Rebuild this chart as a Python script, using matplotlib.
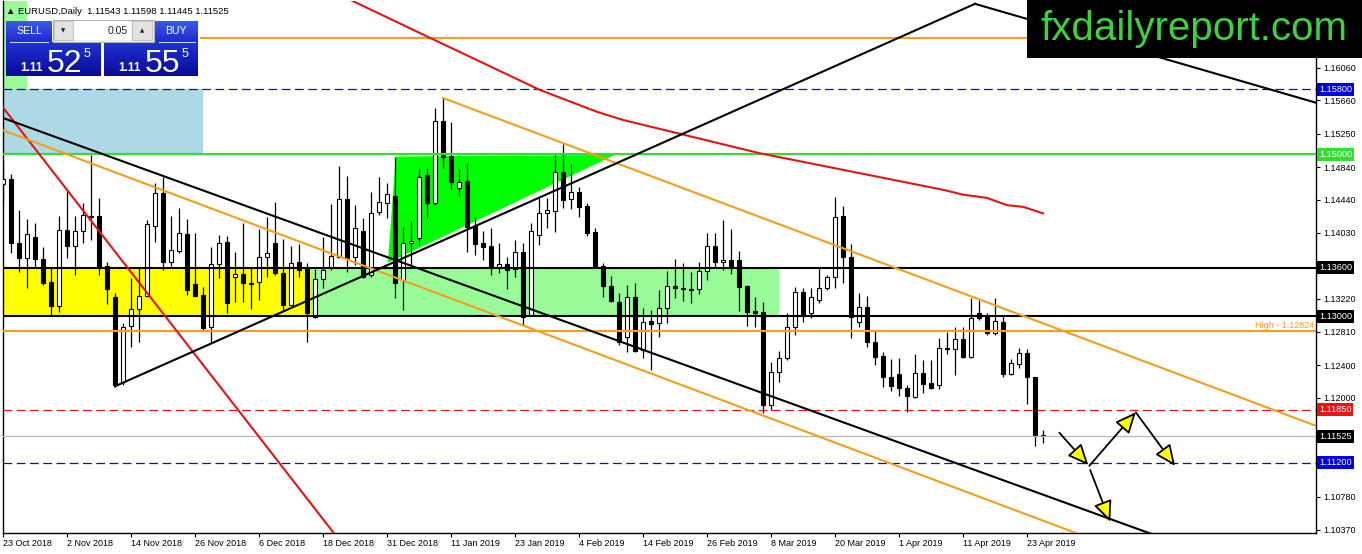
import numpy as np
import matplotlib
matplotlib.use("Agg")
import matplotlib.pyplot as plt
from matplotlib.patches import Rectangle, Polygon, FancyArrowPatch
from matplotlib.colors import to_rgb
import matplotlib.transforms as mtrans

# ---------------- data ----------------
opens = [1.1463, 1.1469, 1.1390, 1.1372, 1.1398, 1.1371, 1.1342, 1.1313, 1.1406, 1.1387,
         1.1405, 1.1424, 1.1424, 1.1362, 1.1324, 1.1219, 1.1288, 1.1309, 1.1325, 1.1411,
         1.1452, 1.1367, 1.1381, 1.1401, 1.1340, 1.1326, 1.1287, 1.1365, 1.1392, 1.1349,
         1.1352, 1.1341, 1.1342, 1.1373, 1.1390, 1.1354, 1.1314, 1.1367, 1.1360, 1.1299,
         1.1346, 1.1360, 1.1373, 1.1445, 1.1373, 1.1405, 1.1351, 1.1429, 1.1440, 1.1448,
         1.1345, 1.1390, 1.1397, 1.1474, 1.1440, 1.1541, 1.1498, 1.1458, 1.1467, 1.1411,
         1.1390, 1.1387, 1.1361, 1.1365, 1.1358, 1.1379, 1.1302, 1.1400, 1.1427, 1.1430,
         1.1478, 1.1445, 1.1453, 1.1436, 1.1404, 1.1362, 1.1338, 1.1318, 1.1275, 1.1324,
         1.1259, 1.1294, 1.1292, 1.1310, 1.1338, 1.1335, 1.1334, 1.1334, 1.1356, 1.1387,
         1.1367, 1.1370, 1.1370, 1.1338, 1.1307, 1.1305, 1.1191, 1.1232, 1.1249, 1.1287,
         1.1330, 1.1304, 1.1320, 1.1335, 1.1349, 1.1424, 1.1373, 1.1293, 1.1312, 1.1268,
         1.1251, 1.1225, 1.1229, 1.1212, 1.1201, 1.1230, 1.1218, 1.1216, 1.1261, 1.1260,
         1.1272, 1.1250, 1.1304, 1.1301, 1.1280, 1.1293, 1.1229, 1.1241, 1.1255, 1.1225,
         1.11543]
highs = [1.1493, 1.1475, 1.1431, 1.1420, 1.1415, 1.1385, 1.1360, 1.1424, 1.1454, 1.1424,
         1.1440, 1.1499, 1.1446, 1.1367, 1.1329, 1.1292, 1.1347, 1.1361, 1.1419, 1.1464,
         1.1472, 1.1424, 1.1434, 1.1420, 1.1403, 1.1336, 1.1385, 1.1400, 1.1399, 1.1379,
         1.1415, 1.1361, 1.1408, 1.1422, 1.1441, 1.1395, 1.1387, 1.1389, 1.1366, 1.1358,
         1.1398, 1.1438, 1.1485, 1.1473, 1.1437, 1.1421, 1.1453, 1.1472, 1.1464, 1.1496,
         1.1410, 1.1418, 1.1483, 1.1483, 1.1557, 1.1569, 1.1539, 1.1482, 1.1489, 1.1422,
         1.1405, 1.1409, 1.1390, 1.1373, 1.1394, 1.1390, 1.1415, 1.1446, 1.1446, 1.1499,
         1.1512, 1.1488, 1.1459, 1.1440, 1.1409, 1.1366, 1.1350, 1.1329, 1.1339, 1.1341,
         1.1310, 1.1308, 1.1333, 1.1356, 1.1371, 1.1366, 1.1355, 1.1367, 1.1403, 1.1403,
         1.1419, 1.1408, 1.1381, 1.1339, 1.1324, 1.1318, 1.1244, 1.1257, 1.1304, 1.1336,
         1.1335, 1.1335, 1.1360, 1.1351, 1.1447, 1.1436, 1.1389, 1.1329, 1.1325, 1.1283,
         1.1256, 1.1248, 1.1249, 1.1216, 1.1254, 1.1246, 1.1246, 1.1273, 1.1281, 1.1287,
         1.1287, 1.1323, 1.1320, 1.1304, 1.1323, 1.1302, 1.1248, 1.1261, 1.1260, 1.1226,
         1.11598]
lows = [1.1440, 1.1378, 1.1355, 1.1335, 1.1361, 1.1339, 1.1302, 1.1305, 1.1372, 1.1351,
        1.1390, 1.1394, 1.1351, 1.1315, 1.1213, 1.1216, 1.1262, 1.1268, 1.1324, 1.1392,
        1.1357, 1.1362, 1.1378, 1.1326, 1.1324, 1.1283, 1.1268, 1.1347, 1.1304, 1.1318,
        1.1318, 1.1309, 1.1320, 1.1349, 1.1351, 1.1308, 1.1313, 1.1349, 1.1268, 1.1298,
        1.1335, 1.1357, 1.1372, 1.1355, 1.1363, 1.1347, 1.1349, 1.1425, 1.1421, 1.1323,
        1.1308, 1.1360, 1.1388, 1.1421, 1.1437, 1.1483, 1.1457, 1.1448, 1.1379, 1.1376,
        1.1370, 1.1351, 1.1354, 1.1334, 1.1349, 1.1289, 1.1301, 1.1388, 1.1409, 1.1404,
        1.1434, 1.1432, 1.1422, 1.1399, 1.1361, 1.1324, 1.1318, 1.1265, 1.1256, 1.1256,
        1.1249, 1.1234, 1.1275, 1.1292, 1.1323, 1.1319, 1.1317, 1.1328, 1.1345, 1.1361,
        1.1357, 1.1352, 1.1307, 1.1288, 1.1287, 1.1181, 1.1185, 1.1219, 1.1246, 1.1277,
        1.1293, 1.1298, 1.1317, 1.1333, 1.1335, 1.1341, 1.1273, 1.1287, 1.1262, 1.1240,
        1.1213, 1.1208, 1.1202, 1.1182, 1.1199, 1.1206, 1.1211, 1.1211, 1.1254, 1.1228,
        1.1249, 1.1249, 1.1296, 1.1277, 1.1277, 1.1225, 1.1228, 1.1236, 1.1192, 1.1140,
        1.11445]
closes = [1.1469, 1.1390, 1.1372, 1.1401, 1.1371, 1.1341, 1.1313, 1.1406, 1.1387, 1.1405,
          1.1425, 1.1422, 1.1361, 1.1334, 1.1216, 1.1287, 1.1309, 1.1325, 1.1414, 1.1452,
          1.1367, 1.1382, 1.1403, 1.1333, 1.1325, 1.1286, 1.1365, 1.1390, 1.1317, 1.1352,
          1.1341, 1.1340, 1.1373, 1.1378, 1.1354, 1.1314, 1.1366, 1.1357, 1.1304, 1.1346,
          1.1357, 1.1374, 1.1445, 1.1372, 1.1409, 1.1349, 1.1427, 1.1441, 1.1451, 1.1341,
          1.1390, 1.1393, 1.1472, 1.1440, 1.1541, 1.1496, 1.1466, 1.1466, 1.1410, 1.1389,
          1.1386, 1.1361, 1.1365, 1.1357, 1.1379, 1.1299, 1.1405, 1.1427, 1.1431, 1.1478,
          1.1443, 1.1453, 1.1435, 1.1403, 1.1362, 1.1337, 1.1319, 1.1268, 1.1324, 1.1257,
          1.1293, 1.1291, 1.1310, 1.1338, 1.1335, 1.1334, 1.1333, 1.1356, 1.1387, 1.1367,
          1.1370, 1.1362, 1.1336, 1.1305, 1.1304, 1.1191, 1.1232, 1.1249, 1.1287, 1.1330,
          1.1303, 1.1324, 1.1335, 1.1349, 1.1422, 1.1373, 1.1299, 1.1312, 1.1268, 1.1250,
          1.1225, 1.1214, 1.1212, 1.1202, 1.1230, 1.1217, 1.1212, 1.1261, 1.1260, 1.1272,
          1.1250, 1.1298, 1.1298, 1.1280, 1.1294, 1.1229, 1.1243, 1.1255, 1.1225, 1.1153,
          1.11525]

tick_labels = ["23 Oct 2018", "2 Nov 2018", "14 Nov 2018", "26 Nov 2018", "6 Dec 2018",
               "18 Dec 2018", "31 Dec 2018", "11 Jan 2019", "23 Jan 2019", "4 Feb 2019",
               "14 Feb 2019", "26 Feb 2019", "8 Mar 2019", "20 Mar 2019", "1 Apr 2019",
               "11 Apr 2019", "23 Apr 2019"]
price_ticks = [1.16060, 1.15660, 1.15250, 1.14840, 1.14440, 1.14030, 1.13630, 1.13220,
               1.12810, 1.12400, 1.12000, 1.11590, 1.11180, 1.10780, 1.10370]
hidden_ticks = [1.13630, 1.11590, 1.11180]   # covered by the level boxes

level_prices = [1.15800, 1.15000, 1.13600, 1.13000, 1.11850, 1.11525, 1.11200]
level_colors = ["#0000dd", "#33dd33", "black", "black", "#ee1111", "black", "#0000dd"]
high_level = 1.12824
orange_top_level = 1.1643

# drawn objects (bar index, price)
ma_k = [40, 43.4, 53.4, 67.1, 74.25, 77.5, 94.6, 117.5, 120, 123, 125.5, 127.5, 130]
ma_p = [1.1711, 1.1690, 1.1643, 1.1579, 1.1552, 1.1542, 1.1501, 1.1456, 1.1450, 1.1446,
        1.1437, 1.1435, 1.1427]
red_steep_k, red_steep_p = [-1, 42], [1.1570, 1.1025]
black_down_k, black_down_p = [-1, 145], [1.1548, 1.1027]
orange_low_k, orange_low_p = [-1, 145], [1.1533, 1.0993]
orange_up_k, orange_up_p = [55, 164.2], [1.1569, 1.1165]
black_up_k, black_up_p = [14, 121.5], [1.1214, 1.1685]
black_top_k, black_top_p = [121.5, 164.2], [1.1685, 1.1563]
tri_k = [48.1, 49.1, 76.5]
tri_p = [1.1366, 1.1497, 1.1499]
arrow_k0 = [132.04, 135.79, 141.6, 135.9]
arrow_p0 = [1.11568, 1.11161, 1.11819, 1.11108]
arrow_k1 = [135.66, 141.6, 146.5, 138.4]
arrow_p1 = [1.11170, 1.11819, 1.11161, 1.10472]

# ---------------- figure ----------------
W, H = 1362, 554
fig = plt.figure(figsize=(W / 100, H / 100), dpi=100)
fig.patch.set_facecolor("white")
FONT = ["Liberation Sans", "DejaVu Sans"]
plt.rcParams["font.family"] = FONT

Lp, Rp, Tp, Bp = 3, 1316, 1, 533
ax = fig.add_axes([Lp / W, (H - Bp) / H, (Rp - Lp) / W, (Bp - Tp) / H])
ax.set_xlim(0, (Rp - Lp) / 8.0)
ax.set_ylim(1.10333, 1.16885)
ax.set_facecolor("white")

ORANGE = "#f59e1b"
RED = "#e01515"

# background zones
ax.add_patch(Rectangle((-5, 1.1580), 8, 0.02, fc="#98fb98", ec="none", zorder=1))
ax.add_patch(Rectangle((-5, 1.1500), 30, 0.0080, fc="#add8e6", ec="none", zorder=1))
ax.add_patch(Rectangle((-5, 1.1300), 43.5, 0.0060, fc="#ffff00", ec="none", zorder=1))
ax.add_patch(Rectangle((38.5, 1.1300), 58.5, 0.0060, fc="#98fb98", ec="none", zorder=1))
ax.add_patch(Polygon(list(zip(tri_k, tri_p)), closed=True, fc="#00ff00", ec="none", zorder=1))

# horizontal levels
ax.axhline(1.15800, color="#1010b0", lw=0.9, ls=(0, (7, 3.6)), zorder=5)
ax.axhline(1.15000, color="#33dd33", lw=1.6, zorder=5)
ax.axhline(1.13600, color="black", lw=1.5, zorder=5)
ax.axhline(1.13000, color="black", lw=1.5, zorder=5)
ax.axhline(high_level, color=ORANGE, lw=1.5, zorder=5)
ax.axhline(1.11850, color=RED, lw=0.9, ls=(0, (7, 3.6)), zorder=5)
ax.axhline(1.11525, color="#b8b8b8", lw=0.9, zorder=5)
ax.axhline(1.11200, color="#1010b0", lw=0.9, ls=(0, (7, 3.6)), zorder=5)
ax.plot([24.75, 170], [orange_top_level] * 2, color=ORANGE, lw=1.5, zorder=5)
ax.text(0.9985, high_level + 0.00012, "High - 1.12824", transform=mtrans.blended_transform_factory(ax.transAxes, ax.transData),
        ha="right", va="bottom", fontsize=6.5, color=ORANGE, zorder=6)

# candles
x = np.arange(len(opens))
o, h, l, c = map(np.array, (opens, highs, lows, closes))
up = c >= o
lo = np.minimum(o, c)
hgt = np.maximum(np.abs(c - o), 0.00011)
ax.vlines(x, l, h, color="black", lw=0.9, zorder=3)
ax.bar(x[up], hgt[up], bottom=lo[up], width=0.55, facecolor="white", edgecolor="black", lw=0.8, zorder=4)
ax.bar(x[~up], hgt[~up], bottom=lo[~up], width=0.55, facecolor="black", edgecolor="black", lw=0.8, zorder=4)

# trend lines
ax.plot(ma_k, ma_p, color=RED, lw=1.5, zorder=6)
ax.plot(red_steep_k, red_steep_p, color=RED, lw=1.5, zorder=6)
ax.plot(orange_low_k, orange_low_p, color=ORANGE, lw=1.5, zorder=6)
ax.plot(orange_up_k, orange_up_p, color=ORANGE, lw=1.5, zorder=6)
ax.plot(black_down_k, black_down_p, color="black", lw=1.5, zorder=6)
ax.plot(black_up_k, black_up_p, color="black", lw=1.5, zorder=6)
ax.plot(black_top_k, black_top_p, color="black", lw=1.5, zorder=6)

for k0, p0, k1, p1 in zip(arrow_k0, arrow_p0, arrow_k1, arrow_p1):
    ax.add_patch(FancyArrowPatch((k0, p0), (k1, p1), arrowstyle="-|>,head_length=0.85,head_width=0.38",
                                 mutation_scale=15, fc="#ffff00", ec="black", lw=1.3,
                                 shrinkA=0, shrinkB=0, zorder=7))

# axes styling
ax.spines["top"].set_visible(False)
for s in ("left", "bottom", "right"):
    ax.spines[s].set_color("black")
    ax.spines[s].set_linewidth(1.0)
ax.set_xticks(np.arange(0, 8 * len(tick_labels), 8))
ax.set_xticklabels(tick_labels)
for t in ax.get_xticklabels():
    t.set_ha("left")
ax.tick_params(axis="x", direction="out", length=3, width=0.8, labelsize=6.5, pad=1.5)
ax.yaxis.tick_right()
ax.set_yticks(price_ticks)
ax.set_yticklabels(["" if v in hidden_ticks else f"{v:.5f}" for v in price_ticks])
ax.tick_params(axis="y", direction="out", length=3, width=0.8, labelsize=6.5, pad=2)

btr = mtrans.blended_transform_factory(ax.transAxes, ax.transData)
for p, col in zip(level_prices, level_colors):
    ax.text(1.0022, p, f"{p:.5f}", transform=btr, ha="left", va="center", fontsize=6.6,
            color="white", clip_on=False, zorder=20,
            bbox=dict(boxstyle="square,pad=0.22", fc=col, ec="none"))

# ---------------- overlay (pixel coords) ----------------
ov = fig.add_axes([0, 0, 1, 1], zorder=30)
ov.set_xlim(0, W)
ov.set_ylim(H, 0)
ov.axis("off")
ov.patch.set_alpha(0)


def grad(x0, y0, x1, y1, top, bot):
    n = 40
    t = np.linspace(0, 1, n)[:, None]
    img = (np.array(to_rgb(top)) * (1 - t) + np.array(to_rgb(bot)) * t)[:, None, :]
    ov.imshow(img, extent=(x0, x1, y1, y0), aspect="auto", interpolation="bilinear", zorder=2)


ov.add_patch(Rectangle((1027, 0), 335, 58, fc="black", ec="none", zorder=1))
ov.text(1194, 29, "fxdailyreport.com", ha="center", va="center", fontsize=29,
        color="#3fd03f", family="Liberation Sans", zorder=3)

ov.text(6, 11, "\u25B2 EURUSD,Daily  1.11543 1.11598 1.11445 1.11525", ha="left", va="center",
        fontsize=6.8, color="black", family=FONT, zorder=3)

grad(6, 21, 52, 42, "#3c5ae6", "#1c2ccc")
grad(155, 21, 198, 42, "#3c5ae6", "#1c2ccc")
grad(6, 42, 101, 76, "#1f33d2", "#0a0a96")
grad(104, 42, 198, 76, "#1f33d2", "#0a0a96")
ov.plot([10, 48], [41.5, 41.5], color="#c8d0ff", lw=0.8, zorder=3)
ov.plot([159, 195], [41.5, 41.5], color="#c8d0ff", lw=0.8, zorder=3)
ov.text(29, 30.5, "SELL", ha="center", va="center", fontsize=7.6, color="white", zorder=3)
ov.text(176, 30.5, "BUY", ha="center", va="center", fontsize=7.6, color="white", zorder=3)
ov.add_patch(Rectangle((53, 20), 101, 22, fc="#f0f0f0", ec="#b0b0b0", lw=0.8, zorder=2))
ov.add_patch(Rectangle((54, 21), 19, 19, fc="#e2e2e2", ec="#c0c0c0", lw=0.6, zorder=3))
ov.add_patch(Rectangle((74, 21), 57, 19, fc="white", ec="none", zorder=3))
ov.add_patch(Rectangle((132, 21), 20, 19, fc="#e2e2e2", ec="#c0c0c0", lw=0.6, zorder=3))
ov.text(63.5, 30.5, "\u25BC", ha="center", va="center", fontsize=4, color="#222222", family="DejaVu Sans", zorder=4)
ov.text(142, 30.5, "\u25B2", ha="center", va="center", fontsize=4, color="#222222", family="DejaVu Sans", zorder=4)
ov.text(128, 30.5, "0.05", ha="right", va="center", fontsize=7.6, color="#222222", zorder=4)

for xs, big in ((20, "52"), (118, "55")):
    ov.text(xs, 71, "1.11", ha="left", va="baseline", fontsize=8.5, color="white", weight="bold", zorder=3)
    ov.text(xs + 27, 71.5, big, ha="left", va="baseline", fontsize=23, color="white", zorder=3)
    ov.text(xs + 64, 57, "5", ha="left", va="baseline", fontsize=9, color="white", zorder=3)

fig.savefig("out.png", dpi=100, facecolor="white")
